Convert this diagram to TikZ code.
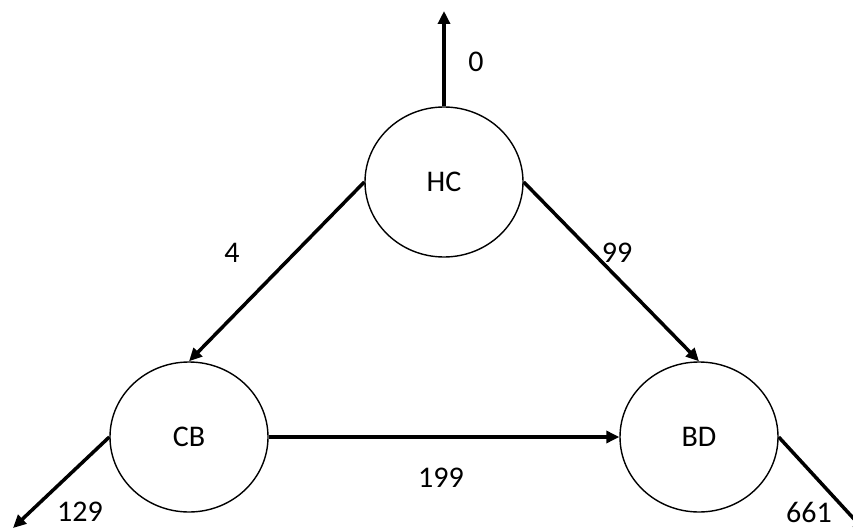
\documentclass[tikz,border=0pt]{standalone}
\usepackage{fontspec}
\setmainfont{Carlito}
\usetikzlibrary{shapes.geometric,arrows.meta}
\begin{document}
\begin{tikzpicture}[x=1pt,y=-1pt,
  state/.style={ellipse,draw,line width=1.4pt,minimum width=158pt,minimum height=150pt,inner sep=0pt,font=\fontsize{30}{31}\selectfont},
  flow/.style={line width=3.5pt,-{Triangle[length=13pt,width=12pt]}},
  lbl/.style={font=\fontsize{30}{31}\selectfont,inner sep=0pt}]
\useasboundingbox (0,0) rectangle (853,529);
% compartments
\node[state] (hc) at (444,182) {HC};
\node[state] (cb) at (189,437) {CB};
\node[state] (bd) at (699,437) {BD};
% open ends of the outflows
\coordinate (top) at (444,11);
\coordinate (cbout) at (13,528);
\coordinate (bdout) at (866,532);
% flows
\draw[flow] (hc.north) -- (top);
\draw[flow] (hc.west) -- (cb.north);
\draw[flow] (hc.east) -- (bd.north);
\draw[flow] (cb.east) -- (bd.west);
\draw[flow] (cb.west) -- (cbout);
\draw[flow] (bd.east) -- (bdout);
% flow values
\node[lbl] (l0) at (476,62) {0};
\node[lbl] (l4) at (232,253) {4};
\node[lbl] (l99) at (617,253) {99};
\node[lbl] (l199) at (441,478) {199};
\node[lbl] (l129) at (80,512) {129};
\node[lbl] (l661) at (809,512) {661};
\end{tikzpicture}
\end{document}
